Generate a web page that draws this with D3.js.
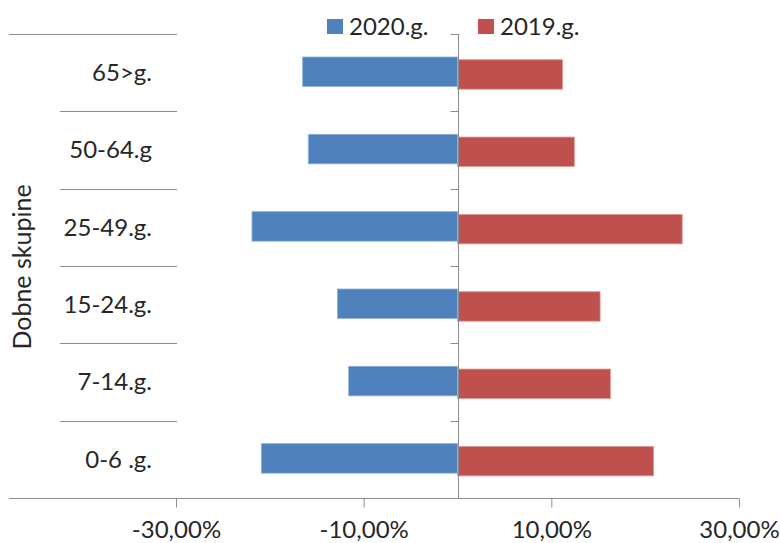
<!DOCTYPE html>
<html>
<head>
<meta charset="utf-8">
<script src="https://cdn.jsdelivr.net/npm/d3@7"></script>
<style>
  body { margin: 0; background: #fff; }
  text { font-family: Lato, "Open Sans", sans-serif; fill: #262626; }
</style>
</head>
<body>
<div id="graph"></div>
<script>
// age groups, top to bottom
var categories = ["65>g.", "50-64.g", "25-49.g.", "15-24.g.", "7-14.g.", "0-6 .g."];
var values2020 = [-16.5, -15.9, -21.9, -12.8, -11.6, -20.9];
var values2019 = [11.2, 12.45, 23.95, 15.2, 16.3, 20.9];
var seriesNames = ["2020.g.", "2019.g."];
var seriesColors = ["#4F81BD", "#C0504D"];
var tickValues = [-30, -10, 10, 30];

var width = 780, height = 543;

var svg = d3.select("#graph").append("svg")
    .attr("width", width)
    .attr("height", height);

var x = d3.scaleLinear()
    .domain([-30, 30])
    .range([176, 739]);

var y = d3.scaleBand()
    .domain(categories)
    .range([34, 498]);

var barH = 29.5;

// category separators on the left
var bounds = d3.range(categories.length + 1).map(function(i) { return 34 + i * y.step(); });

svg.selectAll(".sep")
    .data(bounds.slice(0, -1))
    .enter().append("line")
    .attr("class", "sep")
    .attr("x1", function(d, i) { return i == 0 ? 9 : 60; })
    .attr("x2", 177)
    .attr("y1", function(d) { return Math.round(d) + 0.5; })
    .attr("y2", function(d) { return Math.round(d) + 0.5; })
    .attr("stroke", "#8c8c8c");

// bars
svg.selectAll(".b2020")
    .data(values2020)
    .enter().append("rect")
    .attr("class", "b2020")
    .attr("x", function(d) { return x(d); })
    .attr("width", function(d) { return x(0) - x(d); })
    .attr("y", function(d, i) { return y(categories[i]) + 23; })
    .attr("height", barH)
    .attr("fill", seriesColors[0])
    .attr("stroke", "#8eaedb")
    .attr("stroke-width", 0.8);

svg.selectAll(".b2019")
    .data(values2019)
    .enter().append("rect")
    .attr("class", "b2019")
    .attr("x", x(0))
    .attr("width", function(d) { return x(d) - x(0); })
    .attr("y", function(d, i) { return y(categories[i]) + 25.7; })
    .attr("height", barH)
    .attr("fill", seriesColors[1])
    .attr("stroke", "#e09a98")
    .attr("stroke-width", 0.8);

// centre axis with ticks at category bounds
var cx = Math.round(x(0)) + 0.5;
svg.append("line")
    .attr("x1", cx).attr("x2", cx)
    .attr("y1", 34).attr("y2", 498)
    .attr("stroke", "#8c8c8c");

svg.selectAll(".ctick")
    .data(bounds.slice(0, -1))
    .enter().append("line")
    .attr("class", "ctick")
    .attr("x1", cx - 8).attr("x2", cx)
    .attr("y1", function(d) { return Math.round(d) + 0.5; })
    .attr("y2", function(d) { return Math.round(d) + 0.5; })
    .attr("stroke", "#8c8c8c");

// bottom axis
svg.append("line")
    .attr("x1", 9).attr("x2", 739)
    .attr("y1", 498.5).attr("y2", 498.5)
    .attr("stroke", "#8c8c8c");

var xAxis = d3.axisBottom(x)
    .tickValues(tickValues)
    .tickSize(9)
    .tickPadding(13)
    .tickFormat(function(d) { return (d < 0 ? "-" : "") + Math.abs(d).toFixed(2).replace(".", ",") + "%"; });

var gx = svg.append("g")
    .attr("transform", "translate(0,498.5)")
    .call(xAxis);
gx.select(".domain").remove();
gx.selectAll(".tick line").attr("stroke", "#8c8c8c");
gx.selectAll(".tick text")
    .style("font-family", "Lato, 'Open Sans', sans-serif")
    .style("font-size", "24px")
    .attr("fill", "#262626");

// category labels
svg.selectAll(".cat")
    .data(categories)
    .enter().append("text")
    .attr("class", "cat")
    .attr("x", 152)
    .attr("y", function(d) { return y(d) + y.bandwidth() / 2; })
    .attr("dy", "0.35em")
    .attr("text-anchor", "end")
    .style("font-size", "24px")
    .text(function(d) { return d; });

// axis title
svg.append("text")
    .attr("transform", "translate(31,267) rotate(-90)")
    .attr("text-anchor", "middle")
    .style("font-size", "25px")
    .text("Dobne skupine");

// legend
var legend = svg.selectAll(".leg")
    .data(seriesNames)
    .enter().append("g")
    .attr("class", "leg")
    .attr("transform", function(d, i) { return "translate(" + (i == 0 ? 327 : 478) + ",19)"; });

legend.append("rect")
    .attr("width", 16)
    .attr("height", 15)
    .attr("fill", function(d, i) { return seriesColors[i]; });

legend.append("text")
    .attr("x", 22)
    .attr("y", 7.5)
    .attr("dy", "0.35em")
    .style("font-size", "24px")
    .text(function(d) { return d; });
</script>
</body>
</html>
